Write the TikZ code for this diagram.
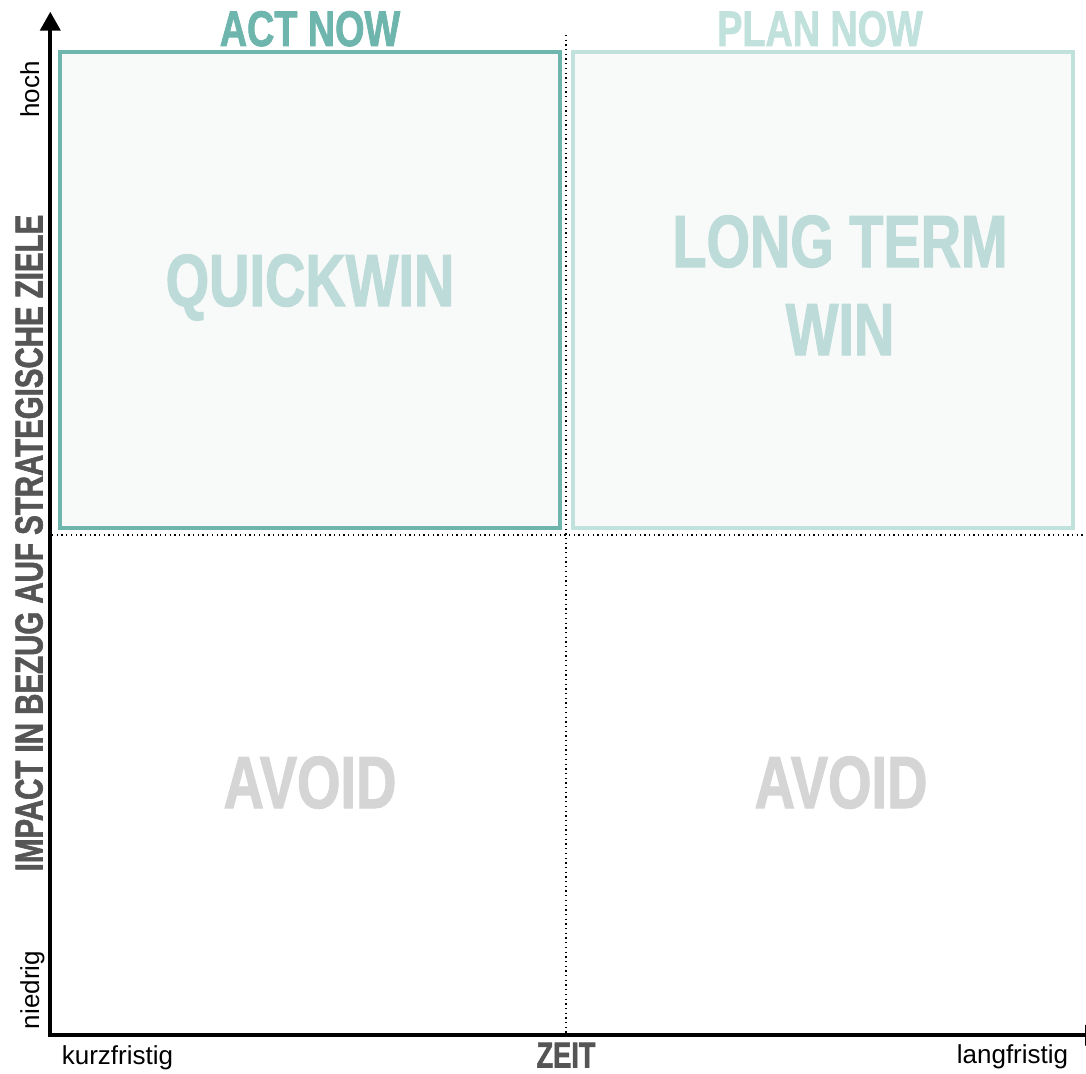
\documentclass[tikz,border=0pt]{standalone}
\usepackage{fontspec}
\setmainfont{Liberation Sans}
\newfontfamily\cond[FakeStretch=0.755,FakeBold=1.5]{Liberation Sans}
\usetikzlibrary{arrows.meta}
\definecolor{tealA}{HTML}{6DB5AD}
\definecolor{tealB}{HTML}{C1E1DD}
\definecolor{tealT}{HTML}{BDDCD9}
\definecolor{boxfill}{HTML}{F8FAF9}
\definecolor{avoidc}{HTML}{D5D5D5}
\definecolor{darkg}{HTML}{555555}
\tikzset{
  axis/.style={line width=4pt, -{Triangle[width=20pt,length=19pt]}},
  grid/.style={line width=1.3pt, dash pattern=on 1.3pt off 3.4pt, black},
  quad/.style={line width=4pt, fill=boxfill},
  head/.style={font=\cond\bfseries\fontsize{50}{60}\selectfont, anchor=base, inner sep=0pt},
  big/.style={font=\cond\bfseries\fontsize{74}{88}\selectfont, anchor=base, inner sep=0pt, align=center},
  small/.style={font=\fontsize{26}{30}\selectfont, anchor=base, inner sep=0pt},
  axlabel/.style={font=\cond\bfseries\fontsize{39}{45}\selectfont, text=darkg, anchor=base, inner sep=0pt}
}
\begin{document}
\begin{tikzpicture}[x=1pt,y=-1pt]
\useasboundingbox[fill=white] (0,0) rectangle (1086,1073);
% quadrant boxes
\draw[quad, draw=tealA] (59.5,52) rectangle (560,528);
\draw[quad, draw=tealB] (572.7,52) rectangle (1073.3,528);
% dotted dividers
\coordinate (vtop) at (566,35);
\coordinate (vbot) at (566,1034);
\coordinate (hl) at (52,535);
\coordinate (hr) at (1086,535);
\draw[grid] (vtop) -- (vbot);
\draw[grid] (hl) -- (hr);
% axes
\coordinate (origin) at (50.3,1035.3);
\coordinate (corner) at (48.3,1035.3);
\coordinate (ytip) at (50.3,11.7);
\coordinate (xtip) at (1104,1035.3);
\draw[axis] (corner) -- (xtip);
\draw[axis] (origin) -- (ytip);
% headings
\node[head, text=tealA] (act) at (310,46) {ACT NOW};
\node[head, text=tealB] (plan) at (820,46) {PLAN NOW};
% quadrant texts
\node[big, text=tealT] (quick) at (310,306) {QUICKWIN};
\node[big, text=tealT] (long) at (840,267) {LONG TERM};
\node[big, text=tealT] (win) at (840,355) {WIN};
\node[big, text=avoidc] (avoid1) at (310,808) {AVOID};
\node[big, text=avoidc] (avoid2) at (841,808) {AVOID};
% axis labels
\node[axlabel, rotate=90] (ylab) at (42.5,543) {IMPACT IN BEZUG AUF STRATEGISCHE ZIELE};
\node[axlabel, font=\cond\bfseries\fontsize{36}{42}\selectfont] (zeit) at (566,1067.5) {ZEIT};
\node[small] (kurz) at (117.5,1064) {kurzfristig};
\node[small] (lang) at (1012.5,1063) {langfristig};
\node[small, rotate=90] (hoch) at (39,89.5) {hoch};
\node[small, rotate=90] (nied) at (39,990) {niedrig};
\end{tikzpicture}
\end{document}
